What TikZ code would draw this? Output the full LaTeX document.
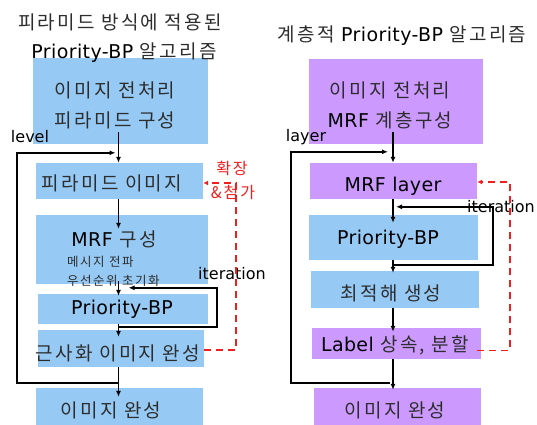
\documentclass[tikz,border=0pt]{standalone}
\usepackage{fontspec}
\setmainfont{Noto Sans CJK KR}[LetterSpace=12]
\newfontfamily\lat{DejaVu Sans}[LetterSpace=2]
\newfontfamily\latl{DejaVu Sans}
\usetikzlibrary{arrows.meta,calc}
\definecolor{bbox}{RGB}{150,202,245}
\definecolor{pbox}{RGB}{204,153,255}
\definecolor{dred}{RGB}{240,30,30}
\definecolor{txt}{RGB}{45,45,45}
\begin{document}
\begin{tikzpicture}[x=1pt,y=-1pt,
  box/.style={inner sep=0pt,draw=none},
  bluebox/.style={box,fill=bbox},
  purpbox/.style={box,fill=pbox},
  big/.style={inner sep=0pt,text=txt,font=\fontsize{19}{22}\selectfont},
  small/.style={inner sep=0pt,text=txt,font=\fontsize{12.5}{14}\selectfont},
  lbl/.style={inner sep=0pt,text=black,font=\latl\fontsize{16}{18}\selectfont},
  redlbl/.style={inner sep=0pt,text=dred,font=\fontsize{16}{18}\selectfont},
  arr/.style={line width=1.5pt,-{Latex[length=6pt,width=5pt]}},
  redarr/.style={line width=1.5pt,dred,dash pattern=on 7pt off 5pt,-{Latex[length=5pt,width=5pt]}}
]
\useasboundingbox (0,0) rectangle (537,424);

% ---------------- left column ----------------
\node[bluebox,minimum width=175pt,minimum height=86pt] (L1) at (120.5,101) {};
\node[bluebox,minimum width=167pt,minimum height=36pt] (L2) at (119.5,181) {};
\node[bluebox,minimum width=172pt,minimum height=69pt] (L3) at (122,249.5) {};
\node[bluebox,minimum width=170pt,minimum height=30pt] (L4) at (123,309) {};
\node[bluebox,minimum width=166pt,minimum height=37pt] (L5) at (121,348.5) {};
\node[bluebox,minimum width=167pt,minimum height=38pt] (L6) at (119.5,407) {};

\node[big] (tl1) at (120,22) {피라미드 방식에 적용된};
\node[big] (tl2) at (124,53) {{\lat\color{black}Priority-BP} 알고리즘};

\node[big] (L1a) at (115,90) {이미지 전처리};
\node[big] (L1b) at (115,120) {피라미드 구성};
\node[big] (L2t) at (112,183) {피라미드 이미지};
\node[big] (L3t) at (114,239) {{\lat\color{black}MRF} 구성};
\node[small,anchor=west] (L3a) at (67,262) {메시지 전파};
\node[small,anchor=west] (L3b) at (67,281) {우선순위 초기화};
\node[big,text=black,font=\lat\fontsize{19}{22}\selectfont] (L4t) at (122,309) {Priority-BP};
\node[big] (L5t) at (118,353) {근사화 이미지 완성};
\node[big] (L6t) at (111,410) {이미지 완성};

\node[lbl] (lev) at (30,137) {level};
\node[lbl] (itL) at (232,274) {iteration};
\node[redlbl] (ext1) at (232,168) {확장};
\node[redlbl] (ext2) at (233,192) {\&첨가};

\coordinate (colL) at (118.5,0);
\coordinate (loopL) at (17,0);
\coordinate (itxL) at (217,0);
\coordinate (redxL) at (236,0);

\draw[arr] ($(L1.south -| colL)+(0,-12)$) -- (L2.north -| colL);
\draw[arr] (L2.south -| colL) -- ($(L3.north -| colL)+(0,14)$);
\draw[arr] ($(L3.south -| colL)+(0,-3)$) -- ($(L4.north -| colL)+(0,2)$);
\draw[arr] (L4.south -| colL) -- ($(L5.north -| colL)+(0,7)$);
\draw[arr] (L5.south -| colL) -- ($(L6.north -| colL)+(0,9)$);
% iteration loop
\draw[arr] ($(L4.south -| colL)+(0,3)$) -| ($(L4.north -| itxL)+(0,-6)$) -- ($(L4.north -| colL)+(10,-6)$);
% level loop
\draw[arr] ($(L5.south -| colL)+(-1,16)$) -| ($(L2.north -| loopL)+(0,-10)$) -- ($(L2.north -| colL)+(-3,-10)$);
% red expansion
\draw[redarr] ($(L5.east)+(0,1.5)$) -| ($(L2.east -| redxL)+(0,2)$) -- ($(L2.east)+(0,2)$);

% ---------------- right column ----------------
\node[purpbox,minimum width=174pt,minimum height=85pt] (R1) at (396,101.5) {};
\node[purpbox,minimum width=167pt,minimum height=36pt] (R2) at (393.5,181) {};
\node[bluebox,minimum width=169pt,minimum height=45pt] (R3) at (393.5,237.5) {};
\node[bluebox,minimum width=168pt,minimum height=37pt] (R4) at (395,289.5) {};
\node[purpbox,minimum width=169pt,minimum height=31pt] (R5) at (396.5,343.5) {};
\node[purpbox,minimum width=167pt,minimum height=38pt] (R6) at (397.5,407) {};

\node[big] (tr) at (402,36) {계층적 {\lat\color{black}Priority-BP} 알고리즘};

\node[big] (R1a) at (390,90) {이미지 전처리};
\node[big] (R1b) at (390,120) {{\lat\color{black}MRF} 계층구성};
\node[big,text=black,font=\lat\fontsize{19}{22}\selectfont] (R2t) at (393,186) {MRF layer};
\node[big,text=black,font=\lat\fontsize{19}{22}\selectfont] (R3t) at (388,239) {Priority-BP};
\node[big] (R4t) at (391,293) {최적해 생성};
\node[big] (R5t) at (395,345) {{\lat\color{black}Label} 상속, 분할};
\node[big] (R6t) at (395,410) {이미지 완성};

\node[lbl] (lay) at (306,137) {layer};

\coordinate (colR) at (393,0);
\coordinate (loopR) at (291,0);
\coordinate (itxR) at (493,0);
\coordinate (redxR) at (510,0);

\draw[arr] ($(R1.south -| colR)+(0,-12)$) -- (R2.north -| colR);
\draw[arr] (R2.south -| colR) -- ($(R3.north -| colR)+(0,8)$);
\draw[arr] (R3.south -| colR) -- ($(R4.north -| colR)+(0,2)$);
\draw[arr] (R4.south -| colR) -- ($(R5.north -| colR)+(0,4)$);
\draw[arr] (R5.south -| colR) -- ($(R6.north -| colR)+(0,2)$);
% iteration loop
\draw[arr] ($(R3.south -| colR)+(0,5)$) -| ($(R3.north -| itxR)+(0,-8)$) -- ($(R3.north -| colR)+(3,-8)$);
\node[lbl] (itR) at (501,207) {iteration};
% layer loop
\draw[arr] ($(R5.south -| colR)+(-3,24)$) -| ($(R2.north -| loopR)+(0,-11)$) -- ($(R2.north -| colR)+(-5,-11)$);
% red
\draw[redarr] ($(R5.east)+(-4,7)$) -| ($(R2.east -| redxR)+(0,1)$) -- ($(R2.east)+(0,1)$);
\end{tikzpicture}
\end{document}
